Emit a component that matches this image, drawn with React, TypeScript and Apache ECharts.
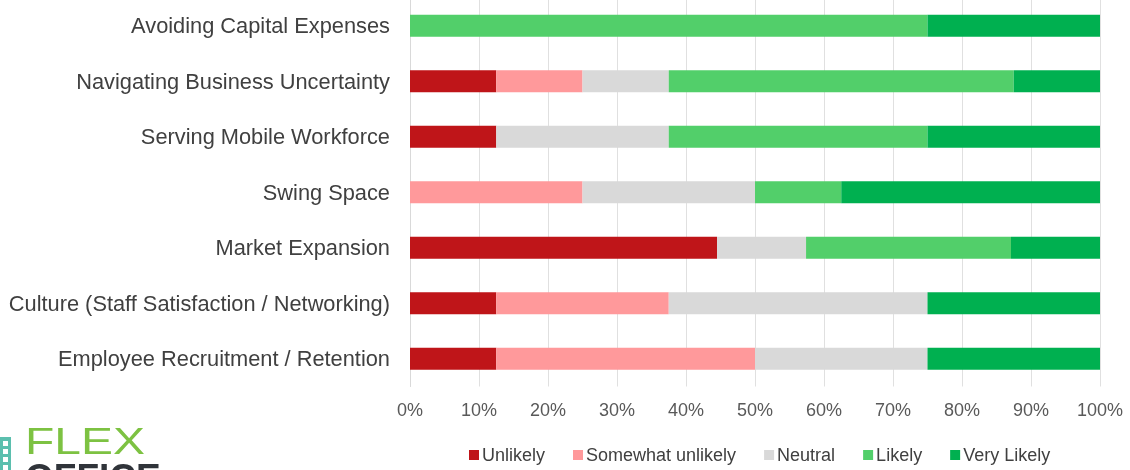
import React, { useEffect, useRef } from "react";
import * as echarts from "echarts";

const categories = [
  "Avoiding Capital Expenses",
  "Navigating Business Uncertainty",
  "Serving Mobile Workforce",
  "Swing Space",
  "Market Expansion",
  "Culture (Staff Satisfaction / Networking)",
  "Employee Recruitment / Retention",
];

const unlikely = [0, 12.5, 12.5, 0, 44.5, 12.5, 12.5];
const somewhatUnlikely = [0, 12.5, 0, 25, 0, 25, 37.5];
const neutral = [0, 12.5, 25, 25, 12.9, 37.5, 25];
const likely = [75, 50, 37.5, 12.5, 29.7, 0, 0];
const veryLikely = [25, 12.5, 25, 37.5, 12.9, 25, 25];

const seriesDefs = [
  { name: "Unlikely", data: unlikely, color: "#bf1519" },
  { name: "Somewhat unlikely", data: somewhatUnlikely, color: "#ff999b" },
  { name: "Neutral", data: neutral, color: "#d9d9d9" },
  { name: "Likely", data: likely, color: "#52cf6a" },
  { name: "Very Likely", data: veryLikely, color: "#00b050" },
];

const FONT = "'Liberation Sans', Arial, sans-serif";

// The chart canvas sits 2px above the page top so the first band starts just above it.
const OFFSET = 2;

function buildingIcon() {
  const els: any[] = [
    { type: "rect", shape: { x: 0, y: 437 + OFFSET, width: 11, height: 40 }, style: { fill: "#5bbfae" } },
  ];
  for (let i = 0; i < 4; i++) {
    els.push({
      type: "rect",
      shape: { x: 3, y: 441 + OFFSET + i * 8, width: 5, height: 5 },
      style: { fill: "#ffffff" },
    });
  }
  return els;
}

export default function App() {
  const ref = useRef<HTMLDivElement>(null);

  useEffect(() => {
    if (!ref.current) return;
    const chart = echarts.init(ref.current, undefined, { renderer: "svg" });
    chart.setOption({
      animation: false,
      grid: { left: 410, right: 30, top: 0, bottom: 83.5, containLabel: false },
      xAxis: {
        type: "value",
        min: 0,
        max: 100,
        interval: 10,
        axisLabel: {
          formatter: "{value}%",
          color: "#595959",
          fontSize: 18,
          fontFamily: FONT,
          margin: 14,
        },
        axisLine: { show: false },
        axisTick: { show: false },
        splitLine: { show: true, lineStyle: { color: "#e0e0e0", width: 1 } },
      },
      yAxis: {
        type: "category",
        data: categories,
        inverse: true,
        axisLabel: {
          color: "#404040",
          fontSize: 21.8,
          fontFamily: FONT,
          margin: 20,
        },
        axisLine: { show: true, lineStyle: { color: "#d9d9d9" } },
        axisTick: { show: false },
      },
      legend: {
        left: 464,
        top: 441 + OFFSET,
        itemWidth: 10,
        itemHeight: 10,
        itemGap: 28,
        icon: "rect",
        textStyle: { color: "#404040", fontSize: 18, fontFamily: FONT, padding: [0, 0, 0, -2] },
        data: seriesDefs.map((s) => s.name),
      },
      series: seriesDefs.map((s) => ({
        name: s.name,
        type: "bar",
        stack: "total",
        barWidth: 22,
        data: s.data,
        itemStyle: { color: s.color },
      })),
      graphic: [
        ...buildingIcon(),
        {
          type: "text",
          x: 25,
          y: 441 + OFFSET,
          scaleX: 1.23,
          scaleY: 0.95,
          style: {
            text: "FLEX",
            font: `normal 39px ${FONT}`,
            fill: "#7dc242",
            verticalAlign: "middle",
          },
        },
        {
          type: "text",
          x: 25,
          y: 478 + OFFSET,
          scaleX: 0.95,
          style: {
            text: "OFFICE",
            font: `bold 39px ${FONT}`,
            fill: "#30343a",
            verticalAlign: "middle",
          },
        },
      ],
    });
    return () => chart.dispose();
  }, []);

  return (
    <div
      ref={ref}
      style={{ position: "fixed", left: 0, top: -OFFSET, width: 1130, height: 470 + OFFSET }}
    />
  );
}
